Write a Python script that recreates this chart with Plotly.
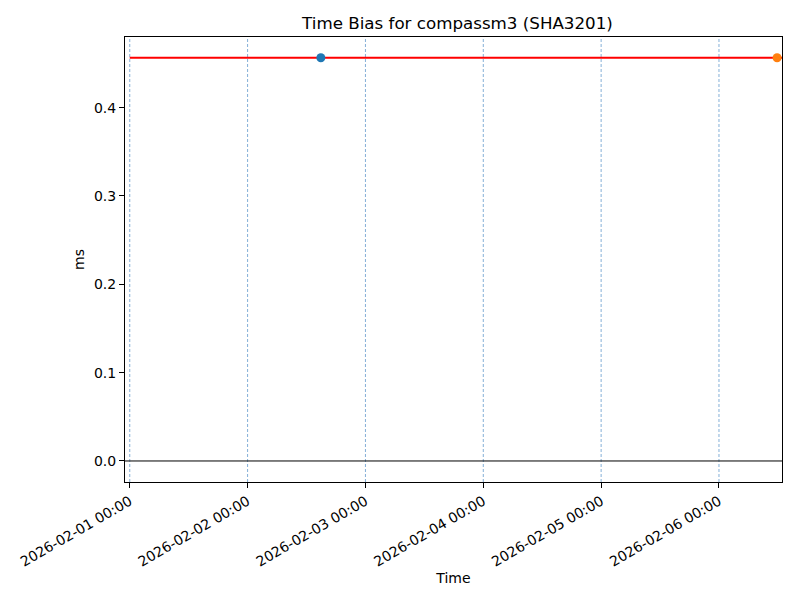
import plotly.graph_objects as go
import pandas as pd

# Reading data (ms)
bias_times = ["2026-02-02 14:55"]
bias_values = [0.4565]
latest_times = ["2026-02-06 11:50"]
latest_values = [0.4565]

# Reference level (red line)
ref_start = "2026-02-01 00:00"
ref_end = "2026-02-06 12:50"
ref_value = 0.4565

# Day markers (dashed verticals)
day_marks = pd.date_range("2026-02-01", "2026-02-06", freq="D")

x_range = ["2026-01-31 23:02", "2026-02-06 12:50"]
y_range = [-0.0238, 0.480]

FONT = "DejaVu Sans, sans-serif"

fig = go.Figure()

fig.add_trace(go.Scatter(
    x=[ref_start, ref_end], y=[ref_value, ref_value],
    mode="lines", line=dict(color="red", width=2), showlegend=False,
))
fig.add_trace(go.Scatter(
    x=bias_times, y=bias_values, mode="markers",
    marker=dict(color="#1f77b4", size=9), showlegend=False,
))
fig.add_trace(go.Scatter(
    x=latest_times, y=latest_values, mode="markers",
    marker=dict(color="#ff7f0e", size=9), showlegend=False,
    cliponaxis=False,
))

for d in day_marks:
    fig.add_vline(x=d, line=dict(color="rgb(100,155,205)", width=0.8, dash="3px,2px"), layer="below")

fig.add_hline(y=0, line=dict(color="black", width=1))

# page body has an 8px margin, so the figure is shrunk/shifted to compensate
fig.update_layout(
    width=792, height=592,
    paper_bgcolor="white", plot_bgcolor="white",
    font=dict(family=FONT, size=14, color="black"),
    margin=dict(l=117, r=18, t=29, b=118),
    title=dict(text="Time Bias for compassm3 (SHA3201)", x=0.5675, xanchor="center",
               y=0.975, yanchor="middle", font=dict(size=16.7)),
)

fig.update_xaxes(
    range=x_range, type="date", automargin=False,
    tickvals=list(day_marks), tickformat="%Y-%m-%d %H:%M", tickangle=-30,
    showgrid=False, zeroline=False,
    showline=True, linecolor="black", linewidth=1, mirror=True,
    ticks="outside", ticklen=5, tickcolor="black",
    title=dict(text="Time", standoff=4, font=dict(size=14)),
)
fig.update_yaxes(
    range=y_range, automargin=False,
    tickvals=[0.0, 0.1, 0.2, 0.3, 0.4], tickformat=".1f",
    showgrid=False, zeroline=False,
    showline=True, linecolor="black", linewidth=1, mirror=True,
    ticks="outside", ticklen=5, tickcolor="black",
    title=dict(text="ms", standoff=6, font=dict(size=14)),
)

fig.write_html("out.html")
